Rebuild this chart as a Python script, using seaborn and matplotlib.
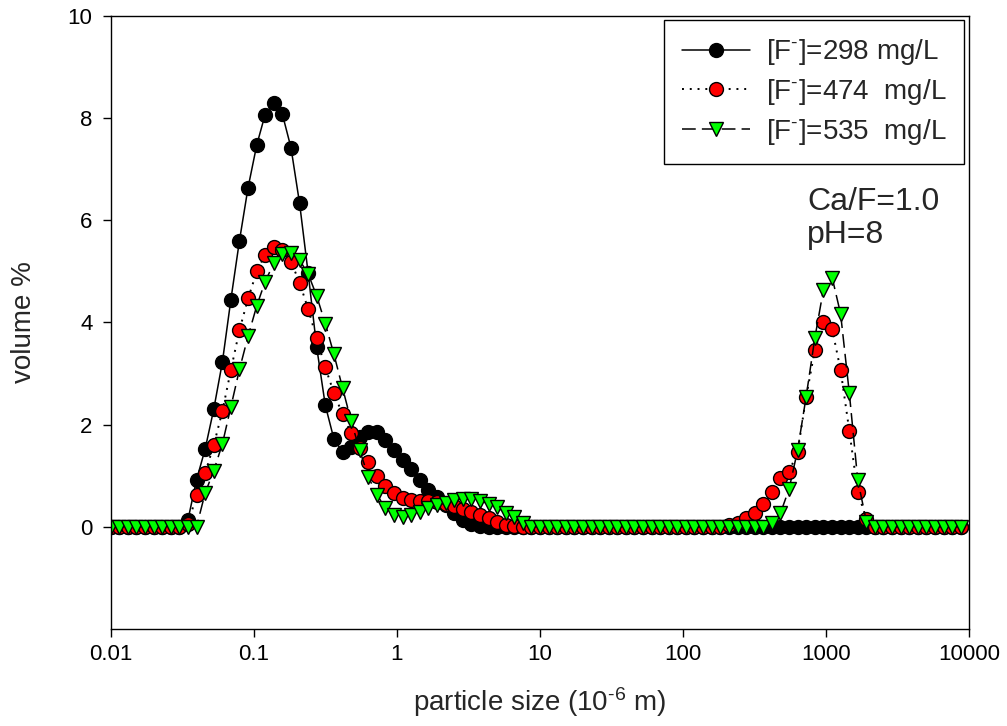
import matplotlib
matplotlib.use("Agg")
import matplotlib.pyplot as plt
from matplotlib.ticker import NullLocator, FixedLocator, FixedFormatter
import seaborn as sns
import pandas as pd

# particle size classes (10^-6 m)
sizes = [0.01, 0.0115, 0.0132, 0.0151, 0.0174, 0.0200, 0.0229, 0.0263, 0.0302, 0.0347,
         0.0398, 0.0457, 0.0525, 0.0603, 0.0692, 0.0794, 0.0912, 0.105, 0.120, 0.138,
         0.158, 0.182, 0.209, 0.240, 0.275, 0.316, 0.363, 0.417, 0.479, 0.550,
         0.631, 0.724, 0.832, 0.955, 1.10, 1.26, 1.45, 1.66, 1.91, 2.19,
         2.51, 2.88, 3.31, 3.80, 4.37, 5.01, 5.75, 6.61, 7.59, 8.71,
         10.0, 11.5, 13.2, 15.1, 17.4, 20.0, 22.9, 26.3, 30.2, 34.7,
         39.8, 45.7, 52.5, 60.3, 69.2, 79.4, 91.2, 105, 120, 138,
         158, 182, 209, 240, 275, 316, 363, 417, 479, 550,
         631, 724, 832, 955, 1100, 1260, 1450, 1660, 1910, 2190,
         2510, 2880, 3310, 3800, 4370, 5010, 5750, 6610, 7590, 8710]

vol_298 = [0, 0, 0, 0, 0, 0, 0, 0, 0, 0.14,
           0.92, 1.52, 2.30, 3.22, 4.45, 5.60, 6.64, 7.48, 8.07, 8.30,
           8.09, 7.42, 6.33, 4.96, 3.52, 2.38, 1.72, 1.46, 1.57, 1.76,
           1.86, 1.86, 1.70, 1.50, 1.31, 1.13, 0.92, 0.72, 0.59, 0.43,
           0.27, 0.14, 0.06, 0.02, 0, 0, 0, 0, 0, 0,
           0, 0, 0, 0, 0, 0, 0, 0, 0, 0,
           0, 0, 0, 0, 0, 0, 0, 0, 0, 0,
           0, 0, 0, 0, 0, 0, 0, 0, 0, 0,
           0, 0, 0, 0, 0, 0, 0, 0, 0, 0,
           0, 0, 0, 0, 0, 0, 0, 0, 0, 0]

vol_474 = [0, 0, 0, 0, 0, 0, 0, 0, 0, 0.05,
           0.62, 1.05, 1.60, 2.26, 3.07, 3.85, 4.47, 5.00, 5.33, 5.47,
           5.42, 5.19, 4.78, 4.26, 3.69, 3.12, 2.62, 2.20, 1.83, 1.54,
           1.26, 1.00, 0.80, 0.66, 0.57, 0.52, 0.50, 0.50, 0.48, 0.45,
           0.40, 0.35, 0.30, 0.23, 0.17, 0.10, 0.04, 0.01, 0, 0,
           0, 0, 0, 0, 0, 0, 0, 0, 0, 0,
           0, 0, 0, 0, 0, 0, 0, 0, 0, 0,
           0, 0, 0.03, 0.08, 0.17, 0.27, 0.45, 0.68, 0.96, 1.08,
           1.47, 2.54, 3.46, 4.00, 3.87, 3.07, 1.88, 0.68, 0.15, 0,
           0, 0, 0, 0, 0, 0, 0, 0, 0, 0]

vol_535 = [0, 0, 0, 0, 0, 0, 0, 0, 0, 0,
           0, 0.66, 1.10, 1.62, 2.35, 3.08, 3.73, 4.33, 4.80, 5.16,
           5.35, 5.36, 5.22, 4.95, 4.52, 3.98, 3.38, 2.72, 2.07, 1.50,
           0.98, 0.63, 0.37, 0.24, 0.20, 0.23, 0.30, 0.37, 0.42, 0.47,
           0.53, 0.54, 0.54, 0.51, 0.45, 0.38, 0.28, 0.20, 0.08, 0,
           0, 0, 0, 0, 0, 0, 0, 0, 0, 0,
           0, 0, 0, 0, 0, 0, 0, 0, 0, 0,
           0, 0, 0, 0, 0, 0, 0, 0.07, 0.27, 0.74,
           1.50, 2.55, 3.69, 4.64, 4.88, 4.17, 2.62, 0.92, 0.10, 0,
           0, 0, 0, 0, 0, 0, 0, 0, 0, 0]

series_labels = [r"[F$^{\text{-}}$]=298 mg/L", r"[F$^{\text{-}}$]=474  mg/L",
                 r"[F$^{\text{-}}$]=535  mg/L"]
xtick_values = [0.01, 0.1, 1, 10, 100, 1000, 10000]
xtick_labels = ["0.01", "0.1", "1", "10", "100", "1000", "10000"]
ytick_values = [0, 2, 4, 6, 8, 10]

sns.set_style("white")
plt.rcParams["font.family"] = ["Liberation Sans", "DejaVu Sans"]
plt.rcParams["mathtext.fontset"] = "custom"
plt.rcParams["mathtext.rm"] = "Liberation Sans"
plt.rcParams["mathtext.it"] = "Liberation Sans:italic"
plt.rcParams["mathtext.bf"] = "Liberation Sans:bold"

fig = plt.figure(figsize=(10.07, 7.26), dpi=100)
ax = fig.add_axes([0.1099, 0.1336, 0.8527, 0.8444])

df = pd.DataFrame({"size": sizes, "v298": vol_298, "v474": vol_474, "v535": vol_535})

sns.lineplot(data=df, x="size", y="v298", ax=ax, sort=False, errorbar=None,
             color="black", linestyle="-", linewidth=1.1,
             marker="o", markersize=10, markerfacecolor="black",
             markeredgecolor="black", markeredgewidth=1.0,
             label=series_labels[0])
sns.lineplot(data=df, x="size", y="v474", ax=ax, sort=False, errorbar=None,
             color="black", linestyle=(0, (1, 3)), linewidth=1.4,
             marker="o", markersize=10, markerfacecolor="#ff0000",
             markeredgecolor="black", markeredgewidth=1.0,
             label=series_labels[1])
sns.lineplot(data=df, x="size", y="v535", ax=ax, sort=False, errorbar=None,
             color="black", linestyle=(0, (9, 4)), linewidth=1.1,
             marker="v", markersize=10.5, markerfacecolor="#00ff00",
             markeredgecolor="black", markeredgewidth=1.0,
             label=series_labels[2])

ax.set_xscale("log")
ax.set_xlim(0.01, 10000)
ax.set_ylim(-2, 10)
ax.xaxis.set_major_locator(FixedLocator(xtick_values))
ax.xaxis.set_major_formatter(FixedFormatter(xtick_labels))
ax.xaxis.set_minor_locator(NullLocator())
ax.set_yticks(ytick_values)
ax.set_yticklabels([str(v) for v in ytick_values])

ax.tick_params(axis="both", which="major", direction="out", length=6, width=1,
               labelsize=16, color="black", labelcolor="black",
               bottom=True, left=True, top=False, right=False)
ax.tick_params(axis="x", pad=5)
ax.tick_params(axis="y", pad=7)
for sp in ax.spines.values():
    sp.set_visible(True)
    sp.set_color("black")
    sp.set_linewidth(1.0)

ax.set_xlabel(r"particle size (10$^{\text{-}6}$ m)", fontsize=20, labelpad=14)
ax.set_ylabel("volume %", fontsize=20, labelpad=22)

ax.text(0.811, 0.6835, "Ca/F=1.0", transform=ax.transAxes, fontsize=23,
        ha="left", va="baseline")
ax.text(0.811, 0.6297, "pH=8", transform=ax.transAxes, fontsize=23,
        ha="left", va="baseline")

leg = ax.legend(loc="upper right", bbox_to_anchor=(964 / 1007, 1 - 20 / 726),
                bbox_transform=fig.transFigure, borderaxespad=0, fontsize=20,
                frameon=True, fancybox=False, shadow=False, framealpha=1,
                edgecolor="black", handlelength=2.45, handletextpad=0.6,
                labelspacing=0.35, borderpad=0.62)
leg.get_frame().set_linewidth(1.0)

fig.savefig("out.png", dpi=100)
